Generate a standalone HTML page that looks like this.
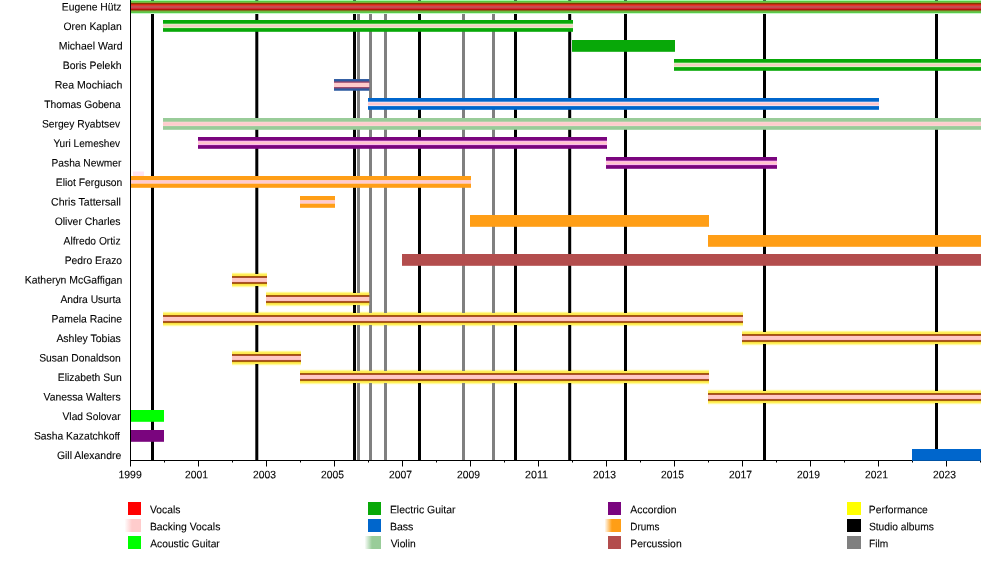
<!DOCTYPE html>
<html lang="en"><head><meta charset="utf-8"><title>Gogol Bordello members timeline</title>
<style>html,body{margin:0;padding:0;background:#fff}body{width:1000px;height:580px;overflow:hidden}svg{display:block}text{font-family:"Liberation Sans",Arial,sans-serif;font-size:10.8px;fill:#000;stroke:#000;stroke-width:0.1px}</style></head><body>
<svg width="1000" height="580" viewBox="0 0 1000 580">
<rect width="1000" height="580" fill="#fff"/>
<g id="halo">
<rect x="232" y="272" width="35" height="1" fill="#fffdeb"/>
<rect x="232" y="273" width="35" height="1" fill="#fffa96"/>
<rect x="232" y="286" width="35" height="1" fill="#fffaa0"/>
<rect x="232" y="287" width="35" height="1" fill="#fffeeb"/>
<rect x="266" y="291" width="103.30000000000001" height="1" fill="#fffdeb"/>
<rect x="266" y="292" width="103.30000000000001" height="1" fill="#fffa96"/>
<rect x="266" y="305" width="103.30000000000001" height="1" fill="#fffaa0"/>
<rect x="266" y="306" width="103.30000000000001" height="1" fill="#fffeeb"/>
<rect x="163" y="311" width="580" height="1" fill="#fffdeb"/>
<rect x="163" y="312" width="580" height="1" fill="#fffa96"/>
<rect x="163" y="325" width="580" height="1" fill="#fffaa0"/>
<rect x="163" y="326" width="580" height="1" fill="#fffeeb"/>
<rect x="742" y="330" width="239" height="1" fill="#fffdeb"/>
<rect x="742" y="331" width="239" height="1" fill="#fffa96"/>
<rect x="742" y="344" width="239" height="1" fill="#fffaa0"/>
<rect x="742" y="345" width="239" height="1" fill="#fffeeb"/>
<rect x="232" y="350" width="69" height="1" fill="#fffdeb"/>
<rect x="232" y="351" width="69" height="1" fill="#fffa96"/>
<rect x="232" y="364" width="69" height="1" fill="#fffaa0"/>
<rect x="232" y="365" width="69" height="1" fill="#fffeeb"/>
<rect x="300" y="369" width="409" height="1" fill="#fffdeb"/>
<rect x="300" y="370" width="409" height="1" fill="#fffa96"/>
<rect x="300" y="383" width="409" height="1" fill="#fffaa0"/>
<rect x="300" y="384" width="409" height="1" fill="#fffeeb"/>
<rect x="708" y="389" width="273" height="1" fill="#fffdeb"/>
<rect x="708" y="390" width="273" height="1" fill="#fffa96"/>
<rect x="708" y="403" width="273" height="1" fill="#fffaa0"/>
<rect x="708" y="404" width="273" height="1" fill="#fffeeb"/>
</g>
<g id="lines">
<rect x="357" y="0" width="3" height="460" fill="#808080"/>
<rect x="369" y="0" width="3" height="460" fill="#808080"/>
<rect x="384" y="0" width="3" height="460" fill="#808080"/>
<rect x="462" y="0" width="3" height="460" fill="#808080"/>
<rect x="492" y="0" width="3" height="460" fill="#808080"/>
<rect x="151" y="0" width="3" height="460" fill="#000"/>
<rect x="255.3" y="0" width="3" height="460" fill="#000"/>
<rect x="353" y="0" width="3" height="460" fill="#000"/>
<rect x="418" y="0" width="3" height="460" fill="#000"/>
<rect x="514" y="0" width="3" height="460" fill="#000"/>
<rect x="568.2" y="0" width="3" height="460" fill="#000"/>
<rect x="624" y="0" width="3" height="460" fill="#000"/>
<rect x="763" y="0" width="3" height="460" fill="#000"/>
<rect x="935" y="0" width="3" height="460" fill="#000"/>
</g>
<g id="axis" fill="#000">
<rect x="130" y="0" width="1" height="461"/>
<rect x="130" y="460" width="851" height="1"/>
<rect x="130" y="460" width="1" height="6.5"/>
<rect x="164" y="460" width="1" height="2.5"/>
<rect x="198" y="460" width="1" height="6.5"/>
<rect x="232" y="460" width="1" height="2.5"/>
<rect x="266" y="460" width="1" height="6.5"/>
<rect x="300" y="460" width="1" height="2.5"/>
<rect x="334" y="460" width="1" height="6.5"/>
<rect x="368" y="460" width="1" height="2.5"/>
<rect x="402" y="460" width="1" height="6.5"/>
<rect x="436" y="460" width="1" height="2.5"/>
<rect x="470" y="460" width="1" height="6.5"/>
<rect x="504" y="460" width="1" height="2.5"/>
<rect x="538" y="460" width="1" height="6.5"/>
<rect x="572" y="460" width="1" height="2.5"/>
<rect x="606" y="460" width="1" height="6.5"/>
<rect x="640" y="460" width="1" height="2.5"/>
<rect x="674" y="460" width="1" height="6.5"/>
<rect x="708" y="460" width="1" height="2.5"/>
<rect x="742" y="460" width="1" height="6.5"/>
<rect x="776" y="460" width="1" height="2.5"/>
<rect x="810" y="460" width="1" height="6.5"/>
<rect x="844" y="460" width="1" height="2.5"/>
<rect x="878" y="460" width="1" height="6.5"/>
<rect x="912" y="460" width="1" height="2.5"/>
<rect x="946" y="460" width="1" height="6.5"/>
<rect x="980" y="460" width="1" height="2.5"/>
</g>
<g id="bars">
<rect x="131" y="0" width="850" height="1" fill="#a5faa5"/>
<rect x="131" y="1" width="850" height="1" fill="#55c841"/>
<rect x="131" y="2" width="850" height="1" fill="#82af3c"/>
<rect x="131" y="3" width="850" height="1" fill="#7d3c00"/>
<rect x="131" y="4" width="850" height="1" fill="#cd2814"/>
<rect x="131" y="5" width="850" height="1" fill="#e13732"/>
<rect x="131" y="6" width="850" height="1" fill="#c35050"/>
<rect x="131" y="7" width="850" height="1" fill="#c34b50"/>
<rect x="131" y="8" width="850" height="1" fill="#d72837"/>
<rect x="131" y="9" width="850" height="1" fill="#aa190a"/>
<rect x="131" y="10" width="850" height="1" fill="#826e1e"/>
<rect x="131" y="11" width="850" height="1" fill="#6eb941"/>
<rect x="131" y="12" width="850" height="1" fill="#5ac84b"/>
<rect x="131" y="13" width="850" height="1" fill="#c8fac8"/>
<rect x="163" y="20.0" width="410" height="11.8" fill="#08a808"/>
<rect x="163" y="23.7" width="410" height="4.4" fill="#e0f4c8"/>
<rect x="163" y="24.599999999999998" width="410" height="2.6" fill="#f2cfc0"/>
<rect x="572" y="40.0" width="103" height="11.8" fill="#08a808"/>
<rect x="674" y="59.00000000000001" width="307" height="11.8" fill="#08a808"/>
<rect x="674" y="62.7" width="307" height="4.4" fill="#e0f4c8"/>
<rect x="674" y="63.60000000000001" width="307" height="2.6" fill="#f2cfc0"/>
<rect x="334" y="79.05000000000001" width="35.30000000000001" height="11.7" fill="#2d5aa0"/>
<rect x="334" y="81.4" width="35.30000000000001" height="7" fill="#96466a"/>
<rect x="334" y="82.75" width="35.30000000000001" height="4.3" fill="#ffcccc"/>
<rect x="368" y="98.0" width="511" height="11.8" fill="#0066cc"/>
<rect x="368" y="101.7" width="511" height="4.4" fill="#f3e6f3"/>
<rect x="368" y="102.60000000000001" width="511" height="2.6" fill="#ffc8cd"/>
<rect x="163" y="118.0" width="818" height="11.8" fill="#99cc99"/>
<rect x="163" y="121.7" width="818" height="4.4" fill="#fbd6d4"/>
<rect x="163" y="122.60000000000001" width="818" height="2.6" fill="#ffcccc"/>
<rect x="198" y="137.0" width="409" height="11.8" fill="#7a057e"/>
<rect x="198" y="140.70000000000002" width="409" height="4.4" fill="#ffb6f6"/>
<rect x="198" y="141.6" width="409" height="2.6" fill="#ffc6cc"/>
<rect x="606" y="157.0" width="171" height="11.8" fill="#7a057e"/>
<rect x="606" y="160.70000000000002" width="171" height="4.4" fill="#ffb6f6"/>
<rect x="606" y="161.6" width="171" height="2.6" fill="#ffc6cc"/>
<rect x="131" y="176.0" width="340" height="11.8" fill="#ff9e16"/>
<rect x="131" y="180.05" width="340" height="3.7" fill="#ffd2c0"/>
<rect x="131" y="180.70000000000002" width="340" height="2.4" fill="#ffcbd0"/>
<rect x="300" y="196.0" width="35" height="11.8" fill="#ff9e16"/>
<rect x="300" y="200.05" width="35" height="3.7" fill="#ffd2c0"/>
<rect x="300" y="200.70000000000002" width="35" height="2.4" fill="#ffcbd0"/>
<rect x="470" y="215.0" width="239" height="11.8" fill="#ff9e16"/>
<rect x="708" y="235.0" width="273" height="11.8" fill="#ff9e16"/>
<rect x="402" y="253.99999999999997" width="579" height="11.8" fill="#b34d4d"/>
<rect x="232" y="274" width="35" height="1" fill="#ffed5a"/>
<rect x="232" y="275" width="35" height="1" fill="#ffe850"/>
<rect x="232" y="276" width="35" height="1" fill="#a05a0a"/>
<rect x="232" y="277" width="35" height="1" fill="#af502d"/>
<rect x="232" y="278" width="35" height="1" fill="#ffc8c3"/>
<rect x="232" y="279" width="35" height="1" fill="#ffc8c3"/>
<rect x="232" y="280" width="35" height="1" fill="#ffc8c8"/>
<rect x="232" y="281" width="35" height="1" fill="#fcc2c0"/>
<rect x="232" y="282" width="35" height="1" fill="#ac502a"/>
<rect x="232" y="283" width="35" height="1" fill="#a55f0a"/>
<rect x="232" y="284" width="35" height="1" fill="#fae146"/>
<rect x="232" y="285" width="35" height="1" fill="#fff05a"/>
<rect x="266" y="293" width="103.30000000000001" height="1" fill="#ffed5a"/>
<rect x="266" y="294" width="103.30000000000001" height="1" fill="#ffe850"/>
<rect x="266" y="295" width="103.30000000000001" height="1" fill="#a05a0a"/>
<rect x="266" y="296" width="103.30000000000001" height="1" fill="#af502d"/>
<rect x="266" y="297" width="103.30000000000001" height="1" fill="#ffc8c3"/>
<rect x="266" y="298" width="103.30000000000001" height="1" fill="#ffc8c3"/>
<rect x="266" y="299" width="103.30000000000001" height="1" fill="#ffc8c8"/>
<rect x="266" y="300" width="103.30000000000001" height="1" fill="#fcc2c0"/>
<rect x="266" y="301" width="103.30000000000001" height="1" fill="#ac502a"/>
<rect x="266" y="302" width="103.30000000000001" height="1" fill="#a55f0a"/>
<rect x="266" y="303" width="103.30000000000001" height="1" fill="#fae146"/>
<rect x="266" y="304" width="103.30000000000001" height="1" fill="#fff05a"/>
<rect x="163" y="313" width="580" height="1" fill="#ffed5a"/>
<rect x="163" y="314" width="580" height="1" fill="#ffe850"/>
<rect x="163" y="315" width="580" height="1" fill="#a05a0a"/>
<rect x="163" y="316" width="580" height="1" fill="#af502d"/>
<rect x="163" y="317" width="580" height="1" fill="#ffc8c3"/>
<rect x="163" y="318" width="580" height="1" fill="#ffc8c3"/>
<rect x="163" y="319" width="580" height="1" fill="#ffc8c8"/>
<rect x="163" y="320" width="580" height="1" fill="#fcc2c0"/>
<rect x="163" y="321" width="580" height="1" fill="#ac502a"/>
<rect x="163" y="322" width="580" height="1" fill="#a55f0a"/>
<rect x="163" y="323" width="580" height="1" fill="#fae146"/>
<rect x="163" y="324" width="580" height="1" fill="#fff05a"/>
<rect x="742" y="332" width="239" height="1" fill="#ffed5a"/>
<rect x="742" y="333" width="239" height="1" fill="#ffe850"/>
<rect x="742" y="334" width="239" height="1" fill="#a05a0a"/>
<rect x="742" y="335" width="239" height="1" fill="#af502d"/>
<rect x="742" y="336" width="239" height="1" fill="#ffc8c3"/>
<rect x="742" y="337" width="239" height="1" fill="#ffc8c3"/>
<rect x="742" y="338" width="239" height="1" fill="#ffc8c8"/>
<rect x="742" y="339" width="239" height="1" fill="#fcc2c0"/>
<rect x="742" y="340" width="239" height="1" fill="#ac502a"/>
<rect x="742" y="341" width="239" height="1" fill="#a55f0a"/>
<rect x="742" y="342" width="239" height="1" fill="#fae146"/>
<rect x="742" y="343" width="239" height="1" fill="#fff05a"/>
<rect x="232" y="352" width="69" height="1" fill="#ffed5a"/>
<rect x="232" y="353" width="69" height="1" fill="#ffe850"/>
<rect x="232" y="354" width="69" height="1" fill="#a05a0a"/>
<rect x="232" y="355" width="69" height="1" fill="#af502d"/>
<rect x="232" y="356" width="69" height="1" fill="#ffc8c3"/>
<rect x="232" y="357" width="69" height="1" fill="#ffc8c3"/>
<rect x="232" y="358" width="69" height="1" fill="#ffc8c8"/>
<rect x="232" y="359" width="69" height="1" fill="#fcc2c0"/>
<rect x="232" y="360" width="69" height="1" fill="#ac502a"/>
<rect x="232" y="361" width="69" height="1" fill="#a55f0a"/>
<rect x="232" y="362" width="69" height="1" fill="#fae146"/>
<rect x="232" y="363" width="69" height="1" fill="#fff05a"/>
<rect x="300" y="371" width="409" height="1" fill="#ffed5a"/>
<rect x="300" y="372" width="409" height="1" fill="#ffe850"/>
<rect x="300" y="373" width="409" height="1" fill="#a05a0a"/>
<rect x="300" y="374" width="409" height="1" fill="#af502d"/>
<rect x="300" y="375" width="409" height="1" fill="#ffc8c3"/>
<rect x="300" y="376" width="409" height="1" fill="#ffc8c3"/>
<rect x="300" y="377" width="409" height="1" fill="#ffc8c8"/>
<rect x="300" y="378" width="409" height="1" fill="#fcc2c0"/>
<rect x="300" y="379" width="409" height="1" fill="#ac502a"/>
<rect x="300" y="380" width="409" height="1" fill="#a55f0a"/>
<rect x="300" y="381" width="409" height="1" fill="#fae146"/>
<rect x="300" y="382" width="409" height="1" fill="#fff05a"/>
<rect x="708" y="391" width="273" height="1" fill="#ffed5a"/>
<rect x="708" y="392" width="273" height="1" fill="#ffe850"/>
<rect x="708" y="393" width="273" height="1" fill="#a05a0a"/>
<rect x="708" y="394" width="273" height="1" fill="#af502d"/>
<rect x="708" y="395" width="273" height="1" fill="#ffc8c3"/>
<rect x="708" y="396" width="273" height="1" fill="#ffc8c3"/>
<rect x="708" y="397" width="273" height="1" fill="#ffc8c8"/>
<rect x="708" y="398" width="273" height="1" fill="#fcc2c0"/>
<rect x="708" y="399" width="273" height="1" fill="#ac502a"/>
<rect x="708" y="400" width="273" height="1" fill="#a55f0a"/>
<rect x="708" y="401" width="273" height="1" fill="#fae146"/>
<rect x="708" y="402" width="273" height="1" fill="#fff05a"/>
<rect x="131" y="410.0" width="33" height="11.8" fill="#00ff00"/>
<rect x="131" y="430.0" width="33" height="11.8" fill="#7a057e"/>
<rect x="912" y="449.0" width="69" height="11.8" fill="#0066cc"/>
<rect x="133" y="171.5" width="11" height="4.5" fill="#ffdcf0" opacity="0.8"/>
<rect x="151" y="0" width="3" height="0.7" fill="#000" opacity="0.8"/>
<rect x="255.3" y="0" width="3" height="0.7" fill="#000" opacity="0.8"/>
<rect x="353" y="0" width="3" height="0.7" fill="#000" opacity="0.8"/>
<rect x="418" y="0" width="3" height="0.7" fill="#000" opacity="0.8"/>
<rect x="514" y="0" width="3" height="0.7" fill="#000" opacity="0.8"/>
<rect x="568.2" y="0" width="3" height="0.7" fill="#000" opacity="0.8"/>
<rect x="624" y="0" width="3" height="0.7" fill="#000" opacity="0.8"/>
<rect x="763" y="0" width="3" height="0.7" fill="#000" opacity="0.8"/>
<rect x="935" y="0" width="3" height="0.7" fill="#000" opacity="0.8"/>
</g>
<g id="names">
<text transform="matrix(1 0.001 0 1 0 0.488)" x="61.75" y="10" textLength="59.76" lengthAdjust="spacingAndGlyphs">Eugene Hütz</text>
<text transform="matrix(1 0.001 0 1 0 -0.014)" x="63.51" y="30" textLength="58.16" lengthAdjust="spacingAndGlyphs">Oren Kaplan</text>
<text transform="matrix(1 0.001 0 1 0 0.491)" x="58.74" y="49" textLength="63.93" lengthAdjust="spacingAndGlyphs">Michael Ward</text>
<text transform="matrix(1 0.001 0 1 0 -0.013)" x="62.74" y="69" textLength="58.74" lengthAdjust="spacingAndGlyphs">Boris Pelekh</text>
<text transform="matrix(1 0.001 0 1 0 0.495)" x="54.73" y="88" textLength="67.55" lengthAdjust="spacingAndGlyphs">Rea Mochiach</text>
<text transform="matrix(1 0.001 0 1 0 0.006)" x="44.17" y="108" textLength="76.63" lengthAdjust="spacingAndGlyphs">Thomas Gobena</text>
<text transform="matrix(1 0.001 0 1 0 0.508)" x="41.93" y="127" textLength="78.10" lengthAdjust="spacingAndGlyphs">Sergey Ryabtsev</text>
<text transform="matrix(1 0.001 0 1 0 -0.003)" x="53.38" y="147" textLength="66.65" lengthAdjust="spacingAndGlyphs">Yuri Lemeshev</text>
<text transform="matrix(1 0.001 0 1 0 0.498)" x="51.56" y="166" textLength="69.81" lengthAdjust="spacingAndGlyphs">Pasha Newmer</text>
<text transform="matrix(1 0.001 0 1 0 -0.006)" x="55.75" y="186" textLength="66.52" lengthAdjust="spacingAndGlyphs">Eliot Ferguson</text>
<text transform="matrix(1 0.001 0 1 0 0.499)" x="51.07" y="205" textLength="69.82" lengthAdjust="spacingAndGlyphs">Chris Tattersall</text>
<text transform="matrix(1 0.001 0 1 0 -0.005)" x="54.71" y="225" textLength="65.87" lengthAdjust="spacingAndGlyphs">Oliver Charles</text>
<text transform="matrix(1 0.001 0 1 0 0.486)" x="63.58" y="244" textLength="56.93" lengthAdjust="spacingAndGlyphs">Alfredo Ortiz</text>
<text transform="matrix(1 0.001 0 1 0 -0.015)" x="64.75" y="264" textLength="57.28" lengthAdjust="spacingAndGlyphs">Pedro Erazo</text>
<text transform="matrix(1 0.001 0 1 0 0.525)" x="24.75" y="283" textLength="97.53" lengthAdjust="spacingAndGlyphs">Katheryn McGaffigan</text>
<text transform="matrix(1 0.001 0 1 0 -0.010)" x="60.38" y="303" textLength="60.62" lengthAdjust="spacingAndGlyphs">Andra Usurta</text>
<text transform="matrix(1 0.001 0 1 0 0.498)" x="51.55" y="322" textLength="70.52" lengthAdjust="spacingAndGlyphs">Pamela Racine</text>
<text transform="matrix(1 0.001 0 1 0 -0.006)" x="56.38" y="342" textLength="64.39" lengthAdjust="spacingAndGlyphs">Ashley Tobias</text>
<text transform="matrix(1 0.001 0 1 0 0.511)" x="39.13" y="361" textLength="81.54" lengthAdjust="spacingAndGlyphs">Susan Donaldson</text>
<text transform="matrix(1 0.001 0 1 0 -0.008)" x="57.75" y="381" textLength="63.92" lengthAdjust="spacingAndGlyphs">Elizabeth Sun</text>
<text transform="matrix(1 0.001 0 1 0 0.506)" x="43.56" y="400" textLength="77.21" lengthAdjust="spacingAndGlyphs">Vanessa Walters</text>
<text transform="matrix(1 0.001 0 1 0 -0.013)" x="62.56" y="420" textLength="58.01" lengthAdjust="spacingAndGlyphs">Vlad Solovar</text>
<text transform="matrix(1 0.001 0 1 0 0.516)" x="33.93" y="439" textLength="86.05" lengthAdjust="spacingAndGlyphs">Sasha Kazatchkoff</text>
<text transform="matrix(1 0.001 0 1 0 -0.007)" x="56.88" y="459" textLength="64.38" lengthAdjust="spacingAndGlyphs">Gill Alexandre</text>
</g>
<g id="years">
<text transform="matrix(1 0.001 0 1 0 0.182)" x="118.45" y="478" textLength="23.29" lengthAdjust="spacingAndGlyphs">1999</text>
<text transform="matrix(1 0.001 0 1 0 0.115)" x="184.98" y="478" textLength="23.03" lengthAdjust="spacingAndGlyphs">2001</text>
<text transform="matrix(1 0.001 0 1 0 0.047)" x="252.98" y="478" textLength="22.97" lengthAdjust="spacingAndGlyphs">2003</text>
<text transform="matrix(1 0.001 0 1 0 -0.021)" x="320.98" y="478" textLength="22.95" lengthAdjust="spacingAndGlyphs">2005</text>
<text transform="matrix(1 0.001 0 1 0 -0.089)" x="388.98" y="478" textLength="23.04" lengthAdjust="spacingAndGlyphs">2007</text>
<text transform="matrix(1 0.001 0 1 0 -0.157)" x="456.98" y="478" textLength="23.01" lengthAdjust="spacingAndGlyphs">2009</text>
<text transform="matrix(1 0.001 0 1 0 -0.225)" x="524.98" y="478" textLength="23.03" lengthAdjust="spacingAndGlyphs">2011</text>
<text transform="matrix(1 0.001 0 1 0 -0.293)" x="592.98" y="478" textLength="22.97" lengthAdjust="spacingAndGlyphs">2013</text>
<text transform="matrix(1 0.001 0 1 0 -0.361)" x="660.98" y="478" textLength="22.95" lengthAdjust="spacingAndGlyphs">2015</text>
<text transform="matrix(1 0.001 0 1 0 -0.429)" x="728.98" y="478" textLength="23.04" lengthAdjust="spacingAndGlyphs">2017</text>
<text transform="matrix(1 0.001 0 1 0 -0.497)" x="796.98" y="478" textLength="23.01" lengthAdjust="spacingAndGlyphs">2019</text>
<text transform="matrix(1 0.001 0 1 0 -0.565)" x="864.98" y="478" textLength="23.03" lengthAdjust="spacingAndGlyphs">2021</text>
<text transform="matrix(1 0.001 0 1 0 -0.633)" x="932.98" y="478" textLength="22.97" lengthAdjust="spacingAndGlyphs">2023</text>
</g>
<defs>
<linearGradient id="gpink" x1="0" x2="1" y1="0" y2="0"><stop offset="0" stop-color="#ffcccc" stop-opacity="0"/><stop offset="0.45" stop-color="#ffcccc" stop-opacity="1"/></linearGradient>
<linearGradient id="gdrab" x1="0" x2="1" y1="0" y2="0"><stop offset="0" stop-color="#99cc99" stop-opacity="0"/><stop offset="0.45" stop-color="#99cc99" stop-opacity="1"/></linearGradient>
<linearGradient id="gorange" x1="0" x2="1" y1="0" y2="0"><stop offset="0" stop-color="#ff9e16" stop-opacity="0"/><stop offset="0.45" stop-color="#ff9e16" stop-opacity="1"/></linearGradient>
</defs>
<g id="legend">
<rect x="128" y="502" width="13" height="13" fill="#ff0000"/>
<text transform="matrix(1 0.001 0 1 0 0.050)" x="150.06" y="513" textLength="30.31" lengthAdjust="spacingAndGlyphs">Vocals</text>
<rect x="124.5" y="519" width="16.5" height="13" fill="url(#gpink)"/>
<text transform="matrix(1 0.001 0 1 0 0.050)" x="149.90" y="530" textLength="70.47" lengthAdjust="spacingAndGlyphs">Backing Vocals</text>
<rect x="128" y="536" width="13" height="13" fill="#00ff00"/>
<text transform="matrix(1 0.001 0 1 0 0.050)" x="150.28" y="547" textLength="69.49" lengthAdjust="spacingAndGlyphs">Acoustic Guitar</text>
<rect x="368" y="502" width="13" height="13" fill="#08a808"/>
<text transform="matrix(1 0.001 0 1 0 -0.190)" x="389.89" y="513" textLength="65.68" lengthAdjust="spacingAndGlyphs">Electric Guitar</text>
<rect x="368" y="519" width="13" height="13" fill="#0066cc"/>
<text transform="matrix(1 0.001 0 1 0 -0.190)" x="389.88" y="530" textLength="23.50" lengthAdjust="spacingAndGlyphs">Bass</text>
<rect x="364.5" y="536" width="16.5" height="13" fill="url(#gdrab)"/>
<text transform="matrix(1 0.001 0 1 0 -0.191)" x="390.66" y="547" textLength="25.01" lengthAdjust="spacingAndGlyphs">Violin</text>
<rect x="608" y="502" width="13" height="13" fill="#7a057e"/>
<text transform="matrix(1 0.001 0 1 0 -0.430)" x="630.28" y="513" textLength="46.40" lengthAdjust="spacingAndGlyphs">Accordion</text>
<rect x="604.5" y="519" width="16.5" height="13" fill="url(#gorange)"/>
<text transform="matrix(1 0.001 0 1 0 -0.430)" x="630.29" y="530" textLength="29.07" lengthAdjust="spacingAndGlyphs">Drums</text>
<rect x="608" y="536" width="13" height="13" fill="#b34d4d"/>
<text transform="matrix(1 0.001 0 1 0 -0.430)" x="630.25" y="547" textLength="51.43" lengthAdjust="spacingAndGlyphs">Percussion</text>
<rect x="847" y="502" width="14" height="13" fill="#ffff00"/>
<text transform="matrix(1 0.001 0 1 0 -0.669)" x="868.85" y="513" textLength="59.00" lengthAdjust="spacingAndGlyphs">Performance</text>
<rect x="847" y="519" width="14" height="13" fill="#000"/>
<text transform="matrix(1 0.001 0 1 0 -0.669)" x="868.93" y="530" textLength="65.04" lengthAdjust="spacingAndGlyphs">Studio albums</text>
<rect x="847" y="536" width="14" height="13" fill="#808080"/>
<text transform="matrix(1 0.001 0 1 0 -0.669)" x="869.07" y="547" textLength="19.20" lengthAdjust="spacingAndGlyphs">Film</text>
</g>
</svg></body></html>
